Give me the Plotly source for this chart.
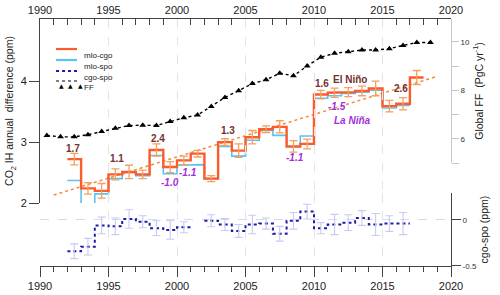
import plotly.graph_objects as go

# ---------------- data ----------------
years = list(range(1992, 2018))
mlo_cgo = [2.72, 2.24, 2.20, 2.47, 2.51, 2.47, 2.87, 2.59, 2.70, 2.81, 2.40, 3.00, 2.86,
           3.08, 3.21, 3.25, 2.93, 2.97, 3.78, 3.81, 3.82, 3.84, 3.88, 3.59, 3.63, 4.06]
mlo_cgo_err = [0.095, 0.095, 0.12, 0.09, 0.11, 0.07, 0.10, 0.09, 0.07, 0.055, 0.05, 0.055, 0.11,
               0.11, 0.055, 0.10, 0.095, 0.08, 0.07, 0.075, 0.075, 0.08, 0.12, 0.095, 0.10, 0.115]

spo_years = list(range(1992, 2017))
mlo_spo = [2.37, 1.94, 2.15, 2.40, 2.50, 2.45, 2.78, 2.48, 2.62, 2.63, 2.40, 2.93, 2.77,
           3.03, 3.19, 3.11, 2.92, 3.10, 3.72, 3.76, 3.80, 3.82, 3.85, 3.56, 3.60]
cgo_spo = [-0.34, -0.29, -0.06, -0.07, 0.01, -0.02, -0.09, -0.11, -0.08, None, -0.01, -0.05, -0.12,
           -0.05, -0.04, -0.15, -0.01, 0.09, -0.09, -0.05, -0.03, 0.02, -0.05, -0.04, -0.04]
cgo_spo_err = [0.08, 0.09, 0.09, 0.09, 0.10, 0.065, 0.08, 0.10, 0.06, None, 0.065, 0.065, 0.07,
               0.10, 0.06, 0.08, 0.09, 0.08, 0.06, 0.11, 0.085, 0.08, 0.12, 0.085, 0.12]

ff_years = [y + 0.5 for y in range(1990, 2019)]
ff = [6.14, 6.08, 6.08, 6.17, 6.30, 6.44, 6.55, 6.56, 6.55, 6.71, 6.87, 6.98, 7.33, 7.71, 7.99,
      8.28, 8.44, 8.71, 8.60, 9.01, 9.37, 9.53, 9.60, 9.67, 9.67, 9.72, 9.86, 9.98, 9.98]

trend_years = [1991, 2019]
trend_vals = [2.13, 4.08]

enso_labels = ["1.7", "1.1", "2.4", "-1.0", "-1.1", "1.3", "-1.1", "1.6", "-1.5", "2.6"]
enso_x = [1992.41, 1995.6, 1998.63, 1999.49, 2000.83, 2003.74, 2008.61, 2010.56, 2011.66, 2016.35]
enso_y = [2.90, 2.73, 3.06, 2.33, 2.50, 3.19, 2.75, 3.96, 3.58, 3.88]
phase_labels = ["El Niño", "La Niña"]
phase_x = [2012.63, 2012.82]
phase_y = [4.02, 3.36]

x_tick_years = [1990, 1995, 2000, 2005, 2010, 2015, 2020]

# ---------------- styles ----------------
C_MC = "#ff5a2a"
C_MC_ERR = "#f4a060"
C_MS = "#5cc2ee"
C_CS = "#1c1caa"
C_CS_ERR = "#c9c9f3"
C_TREND = "#f28a3a"
C_POS = "#74302f"
C_NEG = "#a32fd8"
AX = "#444444"
FONT = "Arial, Liberation Sans, sans-serif"


def steps(xs, vs):
    X, Y = [], []
    for x, v in zip(xs, vs):
        if v is None:
            X.append(None)
            Y.append(None)
            continue
        X += [x, x + 1]
        Y += [v, v]
    return X, Y


fig = go.Figure()

# mlo-spo (under)
sx, sy = steps(spo_years, mlo_spo)
fig.add_trace(go.Scatter(x=sx, y=sy, mode="lines", line=dict(color=C_MS, width=1.6),
                         xaxis="x", yaxis="y", showlegend=False, name="mlo-spo"))
# trend
fig.add_trace(go.Scatter(x=trend_years, y=trend_vals, mode="lines",
                         line=dict(color=C_TREND, width=1.5, dash="dot"),
                         xaxis="x", yaxis="y", showlegend=False, name="trend"))
# invisible companion so the top year axis is drawn
fig.add_trace(go.Scatter(x=trend_years, y=trend_vals, mode="lines", opacity=0,
                         line=dict(width=0), hoverinfo="skip",
                         xaxis="x2", yaxis="y", showlegend=False, name="top axis"))
# mlo-cgo
ox, oy = steps(years, mlo_cgo)
fig.add_trace(go.Scatter(x=ox, y=oy, mode="lines", line=dict(color=C_MC, width=2.4),
                         xaxis="x", yaxis="y", showlegend=False, name="mlo-cgo"))
fig.add_trace(go.Scatter(x=[y + 0.5 for y in years], y=mlo_cgo, mode="markers",
                         marker=dict(size=1, color="rgba(0,0,0,0)"),
                         error_y=dict(type="data", array=mlo_cgo_err, color=C_MC_ERR,
                                      thickness=1.3, width=4),
                         xaxis="x", yaxis="y", showlegend=False, name="mlo-cgo err"))

# FF
fig.add_trace(go.Scatter(x=ff_years, y=ff, mode="lines+markers",
                         line=dict(color="black", width=1.4, dash="dot"),
                         marker=dict(symbol="triangle-up", size=6, color="black"),
                         xaxis="x", yaxis="y2", showlegend=False, name="FF"))

# cgo-spo
cx, cy = steps(spo_years, cgo_spo)
fig.add_trace(go.Scatter(x=cx, y=cy, mode="lines", line=dict(color=C_CS, width=2, dash="dot"),
                         xaxis="x", yaxis="y3", showlegend=False, name="cgo-spo"))
ex = [y + 0.5 for y, v in zip(spo_years, cgo_spo) if v is not None]
ey = [v for v in cgo_spo if v is not None]
ee = [e for e in cgo_spo_err if e is not None]
fig.add_trace(go.Scatter(x=ex, y=ey, mode="markers", marker=dict(size=1, color="rgba(0,0,0,0)"),
                         error_y=dict(type="data", array=ee, color=C_CS_ERR, thickness=1.1, width=4),
                         xaxis="x", yaxis="y3", showlegend=False, name="cgo-spo err"))

# annotations (ENSO indices)
annotations = []
for t, x, y in zip(enso_labels, enso_x, enso_y):
    neg = t.startswith("-")
    annotations.append(dict(x=x, y=y, xref="x", yref="y", showarrow=False,
                            text=("<b><i>%s</i></b>" if neg else "<b>%s</b>") % t,
                            font=dict(size=10, color=C_NEG if neg else C_POS, family=FONT)))
for t, x, y, c in zip(phase_labels, phase_x, phase_y, [C_POS, C_NEG]):
    annotations.append(dict(x=x, y=y, xref="x", yref="y", showarrow=False,
                            text=("<b>%s</b>" if c == C_POS else "<b><i>%s</i></b>") % t,
                            font=dict(size=10, color=c, family=FONT)))

# manual legend
leg_names = ["mlo-cgo", "mlo-spo", "cgo-spo", "FF"]
leg_y = [0.8785, 0.834, 0.789, 0.749]
leg_style = [(C_MC, 2.2, "solid"), (C_MS, 2.2, "solid"), (C_CS, 2, "dot"), ("black", 1.2, "dot")]
shapes = []
for name, yy, (c, w, d) in zip(leg_names, leg_y, leg_style):
    shapes.append(dict(type="line", xref="paper", yref="paper", x0=0.039, x1=0.090, y0=yy, y1=yy,
                       line=dict(color=c, width=w, dash=d)))
    annotations.append(dict(x=0.103, y=yy, xref="paper", yref="paper", showarrow=False,
                            xanchor="left", text=name, font=dict(size=8, color="#222", family=FONT)))
for xx in [0.041, 0.064, 0.088]:
    annotations.append(dict(x=xx, y=0.752, xref="paper", yref="paper", showarrow=False,
                            text="▲", font=dict(size=6, color="black", family="DejaVu Sans")))

tickfont = dict(size=11, color="#222", family=FONT)

fig.update_layout(
    width=500, height=295,
    margin=dict(l=40, r=49, t=19, b=29),
    paper_bgcolor="white", plot_bgcolor="rgba(0,0,0,0)",
    font=dict(family=FONT, color="#222"),
    showlegend=False,
    xaxis=dict(domain=[0, 1], range=[1990, 2020], anchor="y3", side="bottom", automargin=False,
               tickvals=x_tick_years, ticks="outside", ticklen=10, tickcolor=AX, tickwidth=1,
               minor=dict(dtick=1, tick0=1990, ticks="outside", ticklen=5, tickcolor=AX, showgrid=False),
               showline=True, linecolor=AX, linewidth=1,
               showgrid=True, gridcolor="#e4e4e4", griddash="dash", gridwidth=1,
               zeroline=False, tickfont=tickfont),
    xaxis2=dict(range=[1990, 2020], overlaying="x", anchor="y", side="top", automargin=False,
                tickvals=x_tick_years, ticks="inside", ticklen=6, tickcolor=AX,
                minor=dict(dtick=1, tick0=1990, ticks="inside", ticklen=6, tickcolor=AX, showgrid=False),
                showline=True, linecolor=AX, linewidth=1, showgrid=False, zeroline=False,
                tickfont=tickfont),
    yaxis=dict(domain=[0.255, 1], range=[2, 5.02], anchor="x", automargin=False,
               tickvals=[2, 3, 4], ticks="outside", ticklen=10, tickcolor=AX,
               showline=True, linecolor=AX, showgrid=False, zeroline=False, tickfont=tickfont,
               title=dict(text="CO<sub>2</sub> IH annual  difference (ppm)", standoff=4,
                          font=dict(size=10.5, color="#222", family=FONT))),
    yaxis2=dict(domain=[0.417, 1], range=[5.0, 10.95], anchor="x", side="right", automargin=False,
                tick0=6, dtick=2,
                minor=dict(dtick=1, tick0=5, ticks="outside", ticklen=7, tickcolor="#c8c8c8", showgrid=False),
                ticks="outside", ticklen=7, tickcolor="#c8c8c8",
                showline=True, linecolor="#c8c8c8", showgrid=False, zeroline=False,
                tickfont=dict(size=8, color="#333", family=FONT),
                title=dict(text="Global FF  (PgC yr<sup>-1</sup>)", standoff=6,
                           font=dict(size=10.5, color="#222", family=FONT))),
    yaxis3=dict(domain=[0, 0.295], range=[-0.5, 0.29], anchor="x", side="right", automargin=False,
                tickvals=[-0.5, 0], ticktext=["-0.5", "0"],
                ticks="outside", ticklen=9, tickcolor=AX,
                showline=True, linecolor=AX, showgrid=True, gridcolor="#d6d6f6", griddash="dash",
                zeroline=False, tickfont=dict(size=8, color="#333", family=FONT),
                title=dict(text="cgo-spo (ppm)", standoff=4,
                           font=dict(size=10.5, color="#222", family=FONT))),
    annotations=annotations,
    shapes=shapes,
)

fig.write_html("out.html", config={"displayModeBar": False},
               post_script="document.body.style.margin='0px';document.body.style.overflow='hidden';")
